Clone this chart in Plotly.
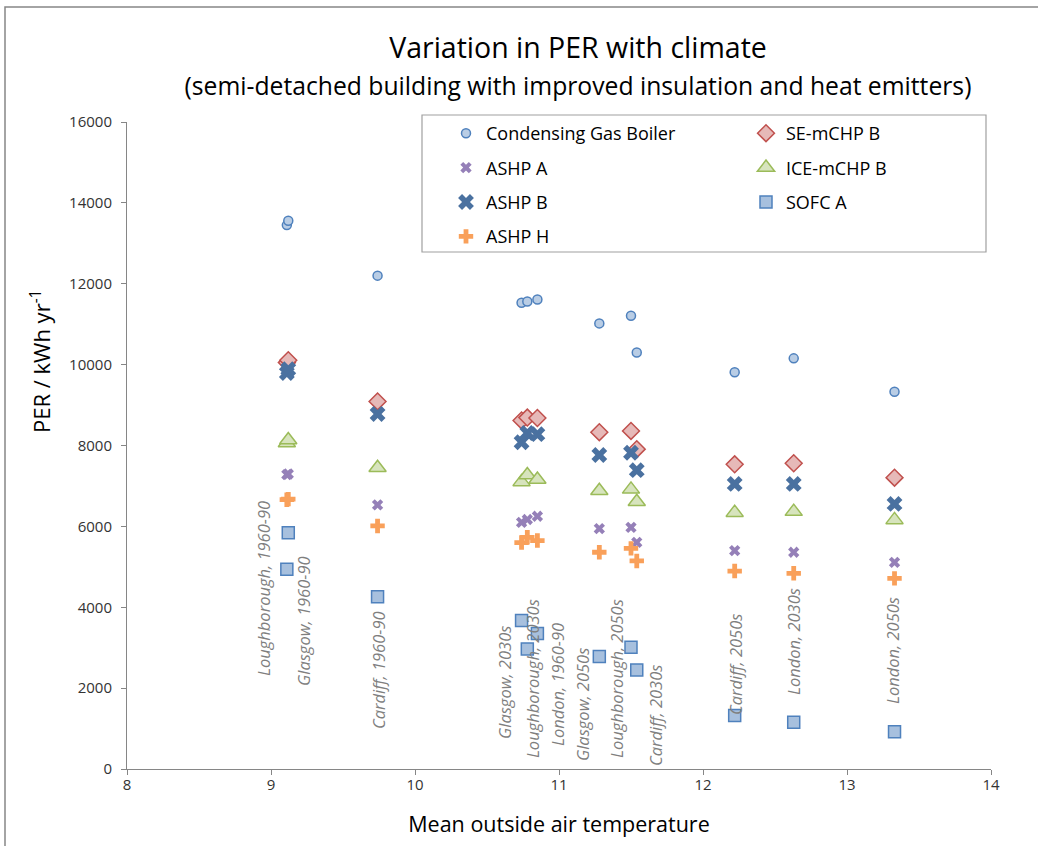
import plotly.graph_objects as go

# locations (mean outside air temperature, degC)
locations = ['Loughborough, 1960-90', 'Glasgow, 1960-90', 'Cardiff, 1960-90',
             'Glasgow, 2030s', 'Loughborough, 2030s', 'London, 1960-90',
             'Glasgow, 2050s', 'Loughborough, 2050s', 'Cardiff, 2030s',
             'Cardiff, 2050s', 'London, 2030s', 'London, 2050s']
temperature = [9.11, 9.12, 9.74, 10.74, 10.78, 10.85, 11.28, 11.50, 11.54, 12.22, 12.63, 13.33]

# PER / kWh yr-1 per heating system
gas_boiler = [13450, 13560, 12200, 11530, 11560, 11610, 11020, 11210, 10300, 9810, 10155, 9330]
se_mchp_b = [10050, 10110, 9090, 8620, 8690, 8680, 8330, 8360, 7910, 7535, 7560, 7205]
ashp_a = [7280, 7295, 6530, 6100, 6170, 6250, 5945, 5975, 5605, 5400, 5360, 5110]
ice_mchp_b = [8060, 8135, 7450, 7100, 7270, 7160, 6880, 6915, 6610, 6340, 6365, 6160]
ashp_b = [9790, 9885, 8780, 8080, 8310, 8280, 7765, 7820, 7390, 7050, 7050, 6555]
sofc_a = [4940, 5845, 4260, 3670, 2970, 3350, 2780, 3010, 2450, 1320, 1155, 920]
ashp_h = [6660, 6675, 6010, 5600, 5730, 5650, 5360, 5455, 5145, 4895, 4840, 4715]

# where each location label sits (x in degC, y in PER units)
label_x = [8.944, 9.222, 9.743, 10.625, 10.82, 10.986, 11.167, 11.403, 11.674, 12.222, 12.625, 13.319]
label_y = [4476, 3660, 2448, 2127, 2226, 2102, 1583, 2226, 1311, 2596, 3140, 2943]

FONT = 'Open Sans'
L, T, W, H = 127, 122, 864, 647

series = [
    ('Condensing Gas Boiler', gas_boiler, dict(symbol='circle', size=9, color='#b9cde5', line=dict(color='#4f81bd', width=1.5)), 'legend'),
    ('SE-mCHP B', se_mchp_b, dict(symbol='diamond', size=13, color='#e6b9b8', line=dict(color='#c0504d', width=1.5)), 'legend2'),
    ('ASHP A', ashp_a, dict(symbol='x', size=10, color='#9580b8', line=dict(width=0)), 'legend'),
    ('ICE-mCHP B', ice_mchp_b, dict(symbol='triangle-up', size=15, color='#d7e4bd', line=dict(color='#9bbb59', width=1.5)), 'legend2'),
    ('ASHP B', ashp_b, dict(symbol='x', size=14, color='#4a71a0', line=dict(width=0)), 'legend'),
    ('SOFC A', sofc_a, dict(symbol='square', size=12, color='#a7c0de', line=dict(color='#4f81bd', width=1.5)), 'legend2'),
    ('ASHP H', ashp_h, dict(symbol='cross', size=12, color='#f9a05a', line=dict(width=0)), 'legend'),
]

fig = go.Figure()
for name, vals, mk, lg in series:
    fig.add_trace(go.Scatter(x=temperature, y=vals, mode='markers', name=name,
                             marker=mk, legend=lg, legendgroup=name))

for lab, lx, ly in zip(locations, label_x, label_y):
    fig.add_annotation(x=lx, y=ly, xref='x', yref='y', text='<i>' + lab + '</i>',
                       textangle=-90, showarrow=False,
                       font=dict(family=FONT, size=16.5, color='#7f7f7f'))


def px(x):
    return (x - L) / W


def py(y):
    return 1 - (y - T) / H


# y axis title sits above the middle of the axis, so it is an annotation
fig.add_annotation(x=px(40), y=py(362), xref='paper', yref='paper',
                   text='PER / kWh yr<sup>-1</sup>', textangle=-90, showarrow=False,
                   xanchor='center', yanchor='middle',
                   font=dict(family=FONT, size=22, color='#000000'))

fig.update_layout(
    width=1038, height=846,
    margin=dict(l=L, r=1038 - L - W, t=T, b=846 - T - H),
    paper_bgcolor='white', plot_bgcolor='white',
    font=dict(family=FONT, color='#222222'),
    title=dict(text='Variation in PER with climate<br>'
                    '<span style="font-size:24.7px">(semi-detached building with improved insulation and heat emitters)</span>',
               x=578 / 1038, xanchor='center', y=1 - 58 / 846, yanchor='top',
               font=dict(family=FONT, size=28.5, color='#000000')),
    xaxis=dict(range=[8, 14], dtick=1, showgrid=False, zeroline=False,
               showline=True, linecolor='#868686', linewidth=1,
               ticks='outside', ticklen=5, tickcolor='#868686', ticklabelstandoff=-3,
               tickfont=dict(family=FONT, size=15, color='#333333'),
               title=dict(text='Mean outside air temperature', standoff=23,
                          font=dict(family=FONT, size=21.5, color='#000000'))),
    yaxis=dict(range=[0, 16000], dtick=2000, tickformat='d', showgrid=False, zeroline=False,
               showline=True, linecolor='#868686', linewidth=1,
               ticks='outside', ticklen=5, tickcolor='#868686', ticklabelstandoff=6,
               tickfont=dict(family=FONT, size=15, color='#333333')),
    legend=dict(x=px(446), y=py(115), xanchor='left', yanchor='top',
                bgcolor='rgba(0,0,0,0)', borderwidth=0, tracegroupgap=8,
                font=dict(family=FONT, size=18, color='#000000')),
    legend2=dict(x=px(746), y=py(115), xanchor='left', yanchor='top',
                 bgcolor='rgba(0,0,0,0)', borderwidth=0, tracegroupgap=8,
                 font=dict(family=FONT, size=18, color='#000000')),
    showlegend=True,
)

# legend frame
fig.add_shape(type='rect', xref='paper', yref='paper', layer='below',
              x0=px(422), x1=px(986), y0=py(252), y1=py(115),
              line=dict(color='#a0a0a0', width=1.2), fillcolor='white')
# chart border
fig.add_shape(type='rect', xref='paper', yref='paper', layer='below',
              x0=px(5), x1=1.2, y0=-0.3, y1=py(7),
              line=dict(color='#868686', width=1.5), fillcolor='rgba(0,0,0,0)')

# drop the page's default body margin so the chart starts at the window corner
fig.write_html('out.html', config={'displayModeBar': False},
               post_script="document.body.style.margin='0px';")
